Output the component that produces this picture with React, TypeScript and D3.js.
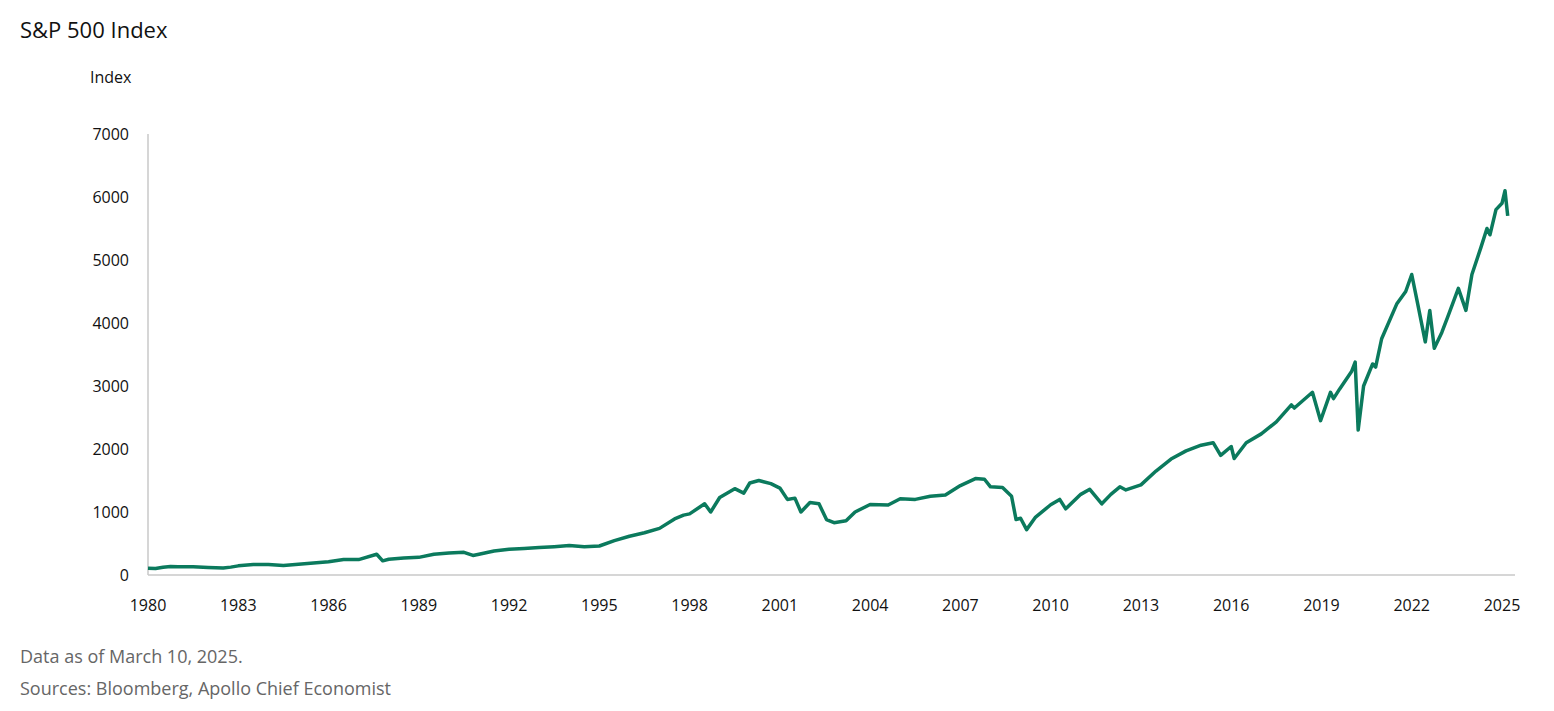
import React from "react";
import * as d3 from "d3";

// approximate S&P 500 level (fractional year, index)
const years: number[] = [
  1980, 1980.25, 1980.5, 1980.75, 1981, 1981.5, 1982, 1982.5, 1982.75, 1983, 1983.5, 1984, 1984.5, 1985,
  1985.5, 1986, 1986.5, 1987, 1987.6, 1987.8, 1988, 1988.5, 1989, 1989.5, 1990, 1990.5, 1990.8, 1991,
  1991.5, 1992, 1992.5, 1993, 1993.5, 1994, 1994.5, 1995, 1995.5, 1996, 1996.5, 1997, 1997.5, 1997.8,
  1998, 1998.5, 1998.7, 1999, 1999.5, 1999.8, 2000, 2000.3, 2000.7, 2001, 2001.25, 2001.5, 2001.7,
  2002, 2002.3, 2002.55, 2002.8, 2003.2, 2003.5, 2004, 2004.6, 2005, 2005.5, 2006, 2006.5, 2007,
  2007.5, 2007.8, 2008, 2008.4, 2008.7, 2008.85, 2009, 2009.2, 2009.5, 2010, 2010.3, 2010.5, 2011,
  2011.3, 2011.7, 2012, 2012.3, 2012.5, 2013, 2013.5, 2014, 2014.5, 2015, 2015.4, 2015.65, 2016,
  2016.1, 2016.5, 2017, 2017.5, 2018, 2018.1, 2018.7, 2018.97, 2019.3, 2019.4, 2019.6, 2020,
  2020.12, 2020.22, 2020.4, 2020.7, 2020.8, 2021, 2021.5, 2021.8, 2022, 2022.2, 2022.45, 2022.6,
  2022.75, 2023, 2023.2, 2023.55, 2023.8, 2024, 2024.3, 2024.5, 2024.6, 2024.8, 2025, 2025.1, 2025.19,
];
const values: number[] = [
  108, 102, 122, 135, 130, 131, 120, 110, 125, 145, 165, 165, 150, 170,
  190, 210, 245, 245, 330, 225, 250, 270, 280, 330, 350, 360, 310, 330,
  380, 410, 420, 435, 450, 470, 450, 460, 545, 615, 670, 740, 890, 950,
  970, 1130, 1000, 1230, 1370, 1300, 1460, 1500, 1450, 1380, 1200, 1220, 1000,
  1150, 1130, 880, 830, 860, 1000, 1120, 1110, 1210, 1200, 1250, 1270, 1420,
  1530, 1520, 1400, 1390, 1250, 880, 900, 720, 920, 1115, 1200, 1050, 1280,
  1360, 1130, 1280, 1400, 1350, 1430, 1650, 1840, 1970, 2060, 2100, 1900, 2040,
  1850, 2100, 2240, 2430, 2700, 2650, 2900, 2450, 2900, 2800, 2950, 3230,
  3380, 2300, 3000, 3350, 3300, 3750, 4300, 4500, 4770, 4300, 3700, 4200,
  3600, 3850, 4100, 4550, 4200, 4770, 5200, 5500, 5400, 5800, 5900, 6100, 5700,
];
const yTicks: number[] = [0, 1000, 2000, 3000, 4000, 5000, 6000, 7000];
const xTicks: number[] = [1980, 1983, 1986, 1989, 1992, 1995, 1998, 2001, 2004, 2007, 2010, 2013, 2016, 2019, 2022, 2025];

const font = "'Open Sans', 'Noto Sans', sans-serif";

export default function App() {
  const x = d3.scaleLinear().domain([1980, 2025]).range([148, 1502]);
  const y = d3.scaleLinear().domain([0, 7000]).range([575, 134]);
  const pts = years.map((t, i) => [t, values[i]] as [number, number]);
  const line = d3
    .line<[number, number]>()
    .x((d) => x(d[0]))
    .y((d) => y(d[1]));

  return (
    <svg width={1538} height={700} style={{ display: "block", margin: "-8px 0 0 -8px" }} fontFamily={font}>
      <text x={20} y={38} fontSize={22} fill="#111">S&amp;P 500 Index</text>
      <text x={90} y={83} fontSize={16} fill="#111">Index</text>
      <line x1={148} x2={148} y1={134} y2={575} stroke="#c8c8c8" strokeWidth={1.5} />
      <line x1={148} x2={1515} y1={575} y2={575} stroke="#c8c8c8" strokeWidth={1.5} />
      {yTicks.map((t) => (
        <text key={t} x={129} y={y(t)} dy="0.35em" textAnchor="end" fontSize={16} fill="#111">{t}</text>
      ))}
      {xTicks.map((t) => (
        <text key={t} x={x(t)} y={605} dy="0.35em" textAnchor="middle" fontSize={16} fill="#111">{t}</text>
      ))}
      <path d={line(pts) ?? ""} fill="none" stroke="#0b7a5d" strokeWidth={3.5} strokeLinejoin="round" />
      <text x={20} y={663} fontSize={18} fill="#666">Data as of March 10, 2025.</text>
      <text x={20} y={695} fontSize={18} fill="#666">Sources: Bloomberg, Apollo Chief Economist</text>
    </svg>
  );
}
